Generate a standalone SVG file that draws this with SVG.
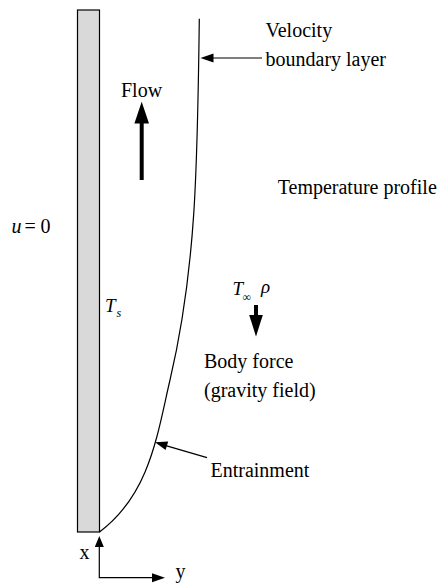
<svg xmlns="http://www.w3.org/2000/svg" width="440" height="583" viewBox="0 0 440 583">
<style>
text{font-family:'Liberation Serif','Tinos','Times New Roman','DejaVu Serif',serif;fill:#000}
.t{font-size:20px}
.m{font-size:19px;font-style:italic}
.sub{font-size:12px}
.i{font-style:italic}
.ln{stroke:#000;stroke-width:1.2;fill:none}
.ah{fill:#000;stroke:none}
</style>
<rect width="440" height="583" fill="#fff"/>
<g id="plate">
<rect x="77.5" y="10" width="22" height="522" fill="#d9d9d9" stroke="#000" stroke-width="1.2"/>
</g>
<g id="boundary-layer">
<path class="ln" d="M99.5,532 C150,494 157.1,435 170,380 C195.9,270 197.5,168.7 199.3,18.7"/>
</g>
<g id="connectors">
<line class="ln" x1="262" y1="58" x2="210" y2="58"/>
<polygon class="ah" points="200.5,58 213.5,53.5 213.5,62.5"/>
<line class="ln" x1="207" y1="457.7" x2="165" y2="445.3"/>
<polygon class="ah" points="155,442.3 168.2,441.4 165.6,450.1"/>
<rect class="ah" x="139.7" y="120" width="4" height="60"/>
<polygon class="ah" points="141.7,101.7 134.4,123.5 149,123.5"/>
<rect class="ah" x="254" y="305" width="4" height="12"/>
<polygon class="ah" points="256,336.5 249.2,315 262.8,315"/>
<polyline class="ln" points="99.3,546 99.3,577.7 153,577.7"/>
<polygon class="ah" points="99.3,536 94.8,547 103.8,547"/>
<polygon class="ah" points="165,577.7 152,573.2 152,582.2"/>
</g>
<g id="labels">
<text class="t" x="265.5" y="36.5">Velocity</text>
<text class="t" x="265.5" y="65.5">boundary layer</text>
<text class="t" x="121" y="97.3">Flow</text>
<text class="t" x="277.7" y="194.3">Temperature profile</text>
<text class="t" x="11.5" y="233.3"><tspan class="i">u</tspan><tspan x="24.5">=</tspan><tspan x="40.5">0</tspan></text>
<text class="m" x="105" y="311.7">T</text>
<text class="sub i" x="116.5" y="316.7">s</text>
<text class="m" x="232.5" y="295">T</text>
<text class="sub" x="242.5" y="300.5">∞</text>
<text class="m" x="261" y="293">ρ</text>
<text class="t" x="204" y="368.3">Body force</text>
<text class="t" x="204" y="396.5">(gravity field)</text>
<text class="t" x="210.5" y="477.3">Entrainment</text>
<text class="t" x="79.5" y="559.3">x</text>
<text class="t" x="175.5" y="578">y</text>
</g>
</svg>
